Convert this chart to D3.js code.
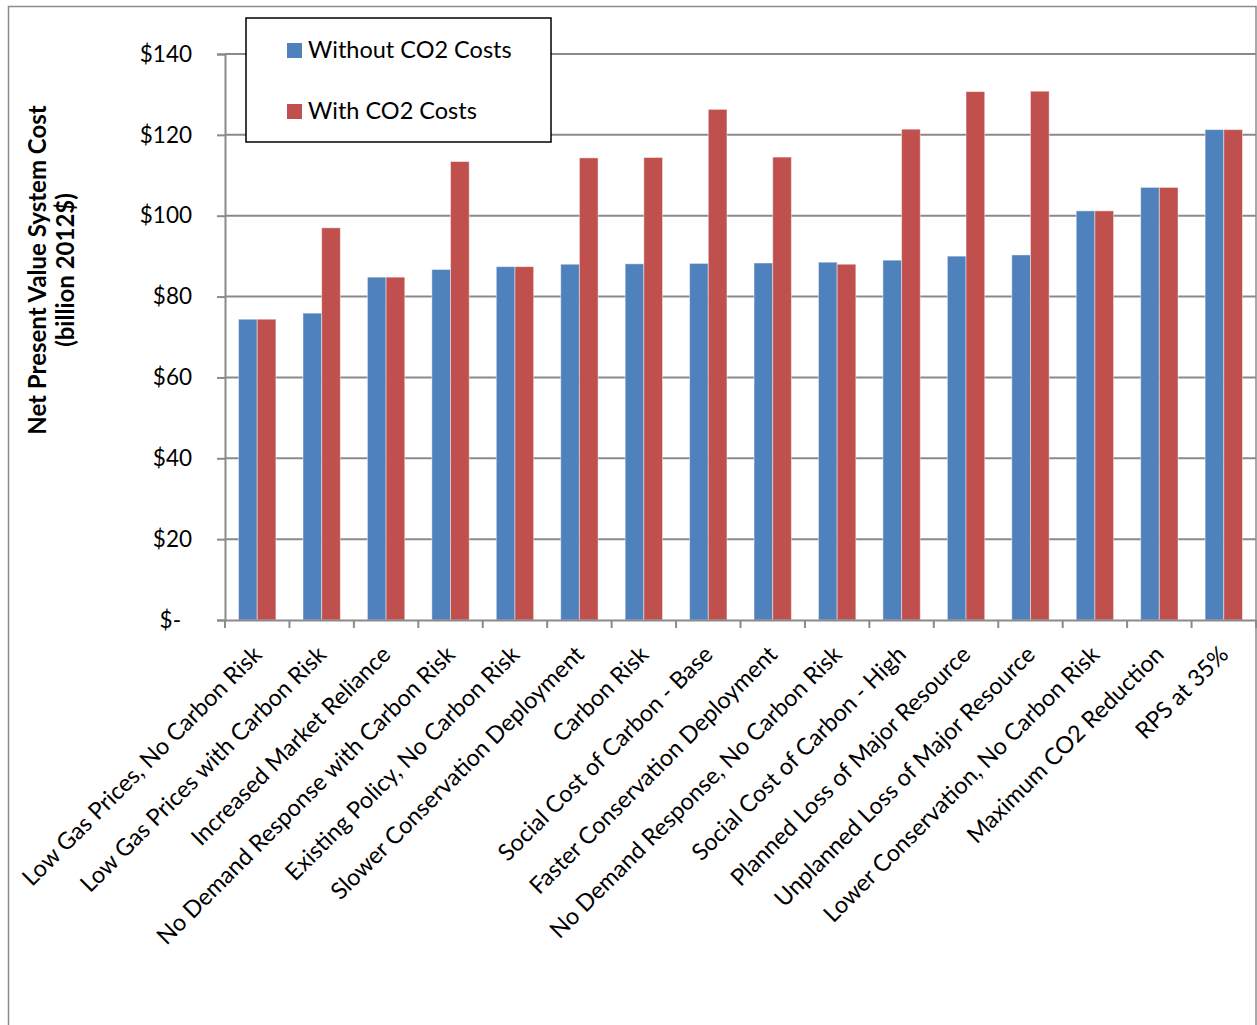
<!DOCTYPE html>
<html>
<head>
<meta charset="utf-8">
<script src="https://cdn.jsdelivr.net/npm/d3@7"></script>
<style>
  html, body { margin: 0; padding: 0; background: #fff; }
  svg { display: block; }
  text { font-family: Lato, "Open Sans", sans-serif; fill: #000; }
</style>
</head>
<body>
<svg id="chart" width="1257" height="1025"></svg>
<script>
// Scenarios, in display order
const categories = [
  "Low Gas Prices, No Carbon Risk",
  "Low Gas Prices with Carbon Risk",
  "Increased Market Reliance",
  "No Demand Response with Carbon Risk",
  "Existing Policy, No Carbon Risk",
  "Slower Conservation Deployment",
  "Carbon Risk",
  "Social Cost of Carbon - Base",
  "Faster Conservation Deployment",
  "No Demand Response, No Carbon Risk",
  "Social Cost of Carbon - High",
  "Planned Loss of Major Resource",
  "Unplanned Loss of Major Resource",
  "Lower Conservation, No Carbon Risk",
  "Maximum CO2 Reduction",
  "RPS at 35%"
];

// Net present value system cost, billion 2012$
const withoutCO2 = [74.4, 75.9, 84.8, 86.7, 87.4, 88.0, 88.1, 88.2, 88.3, 88.5, 89.0, 90.0, 90.3, 101.2, 107.0, 121.3];
const withCO2    = [74.4, 97.0, 84.8, 113.4, 87.4, 114.3, 114.4, 126.3, 114.5, 88.0, 121.4, 130.7, 130.8, 101.2, 107.0, 121.3];

const seriesNames = ["Without CO2 Costs", "With CO2 Costs"];
const seriesColors = ["#4F81BD", "#C0504D"];
const yTicks = [0, 20, 40, 60, 80, 100, 120, 140];

const svg = d3.select("#chart");
const plotLeft = 225, plotRight = 1256, plotTop = 54, plotBottom = 620;

// chart border
svg.append("rect")
  .attr("x", 8.5).attr("y", 6.5)
  .attr("width", 1247.5).attr("height", 1040)
  .attr("fill", "none").attr("stroke", "#8c8c8c").attr("stroke-width", 1.5);

const x = d3.scaleBand().domain(categories).range([plotLeft, plotRight]).padding(0);
const gap = 1.45; // gap width relative to one bar
const gapPx = x.bandwidth() * gap / (2 * (2 + gap));
const x1 = d3.scaleBand().domain(seriesNames).range([gapPx, x.bandwidth() - gapPx]).padding(0);
const y = d3.scaleLinear().domain([0, 140]).range([plotBottom, plotTop]);

// horizontal gridlines
svg.append("g").selectAll("line").data(yTicks.filter(d => d > 0)).join("line")
  .attr("x1", plotLeft).attr("x2", plotRight)
  .attr("y1", d => y(d)).attr("y2", d => y(d))
  .attr("stroke", "#8a8a8a").attr("stroke-width", 2);

// y axis
const yAxis = svg.append("g").attr("transform", `translate(${plotLeft},0)`)
  .call(d3.axisLeft(y).tickValues(yTicks).tickSize(8).tickPadding(25)
    .tickFormat(d => d === 0 ? "$-" : "$" + d));
yAxis.select(".domain").attr("stroke", "#8a8a8a").attr("stroke-width", 2);
yAxis.selectAll(".tick line").attr("stroke", "#8a8a8a").attr("stroke-width", 2);
yAxis.selectAll(".tick text").attr("font-size", 22.5).attr("font-family", "Lato, 'Open Sans', sans-serif")
  .attr("dx", d => d === 0 ? -11 : 0);

// bars
const rows = categories.map((c, i) => ({ cat: c, vals: [withoutCO2[i], withCO2[i]] }));
const groups = svg.append("g").selectAll("g").data(rows).join("g")
  .attr("transform", d => `translate(${x(d.cat)},0)`);
groups.selectAll("rect").data(d => d.vals.map((v, j) => ({ v, s: seriesNames[j], j }))).join("rect")
  .attr("x", d => x1(d.s))
  .attr("y", d => y(d.v))
  .attr("width", x1.bandwidth())
  .attr("height", d => y(0) - y(d.v))
  .attr("fill", d => seriesColors[d.j])
  .attr("stroke", "rgba(255,255,255,0.45)").attr("stroke-width", 1);

// x axis
const xAxis = svg.append("g").attr("transform", `translate(0,${plotBottom})`)
  .call(d3.axisBottom(x).tickSize(0).tickFormat(""));
xAxis.select(".domain").attr("stroke", "#8a8a8a").attr("stroke-width", 2);
// tick marks at category boundaries
svg.append("g").selectAll("line").data(categories.concat([null])).join("line")
  .attr("x1", (d, i) => plotLeft + i * x.bandwidth())
  .attr("x2", (d, i) => plotLeft + i * x.bandwidth())
  .attr("y1", plotBottom).attr("y2", plotBottom + 8)
  .attr("stroke", "#8a8a8a").attr("stroke-width", 2);

// rotated category labels
svg.append("g").selectAll("text").data(categories).join("text")
  .attr("transform", d => `translate(${x(d) + x.bandwidth() / 2 + 6},${plotBottom + 36}) rotate(-45)`)
  .attr("text-anchor", "end")
  .attr("font-size", 23.5)
  .text(d => d);

// y axis title
const yt = svg.append("text")
  .attr("transform", `translate(0,270) rotate(-90)`)
  .attr("text-anchor", "middle")
  .attr("font-size", 24).attr("font-weight", "bold");
yt.append("tspan").attr("x", 0).attr("y", 46).text("Net Present Value System Cost");
yt.append("tspan").attr("x", 0).attr("y", 74).text("(billion 2012$)");

// legend
const lg = svg.append("g");
lg.append("rect").attr("x", 246).attr("y", 18).attr("width", 305).attr("height", 124)
  .attr("fill", "#fff").attr("stroke", "#000").attr("stroke-width", 1.5);
seriesNames.forEach((name, i) => {
  const yy = 50 + i * 61;
  lg.append("rect").attr("x", 287).attr("y", yy - 7).attr("width", 15).attr("height", 15)
    .attr("fill", seriesColors[i]);
  lg.append("text").attr("x", 308).attr("y", yy + 8).attr("font-size", 23.5).text(name);
});
</script>
</body>
</html>
